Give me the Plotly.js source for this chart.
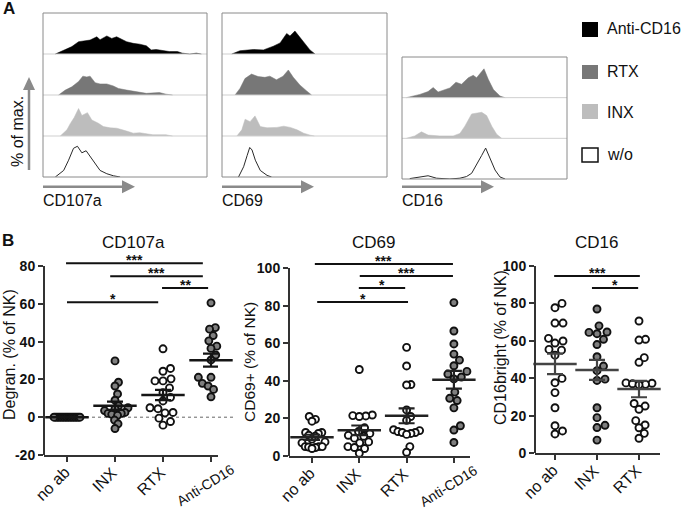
<!DOCTYPE html>
<html><head><meta charset="utf-8">
<script src="https://cdn.plot.ly/plotly-3.0.1.min.js"></script>
<style>html,body{margin:0;padding:0;background:#fff}#chart{width:685px;height:512px}</style>
</head><body><div id="chart"></div>
<script>
// ================= DATA =================
// Panel A: flow histograms (x: fluorescence, 0-100 scale; y: fraction of row height)
const histConditions = ["Anti-CD16", "RTX", "INX", "w/o"];
const h107_anti_x = [7.5,13.6,17.6,21.7,24.7,28.7,32.8,34.8,38.9,41.9,44.9,48,51,55,59,63,66,69,73,77,82,85,89.5,93.5,96.6];
const h107_anti_y = [0,0.1,0.18,0.3,0.32,0.34,0.42,0.35,0.44,0.38,0.42,0.35,0.3,0.26,0.24,0.2,0.1,0.11,0.08,0.06,0.06,0.02,0,0.02,0];
const h107_rtx_x  = [9.5,13.6,17.6,21.7,24.3,26.7,28.7,31.8,34.8,38.9,42.9,46,51,57,63,71,75,79];
const h107_rtx_y  = [0,0.12,0.2,0.33,0.46,0.44,0.46,0.3,0.27,0.27,0.22,0.16,0.12,0.08,0.04,0.06,0.02,0];
const h107_inx_x  = [10.5,14.6,16.6,19,21.7,23.7,27.1,29.8,33.8,36.8,40.9,45,51,55,59,67,75,79];
const h107_inx_y  = [0,0.15,0.3,0.45,0.67,0.5,0.57,0.39,0.31,0.23,0.2,0.19,0.12,0.07,0.08,0.03,0.03,0];
const h107_wo_x   = [7.5,12.6,15.6,18.6,21,23.7,26.3,28.7,31.8,34.8,38.9,42.9,47];
const h107_wo_y   = [0,0.16,0.41,0.7,0.75,0.59,0.64,0.51,0.33,0.16,0.08,0.03,0];

const h69_anti_x = [5.9,10.9,19,25.1,31.1,35.2,39.2,41.2,44.2,47.3,50.3,53.3,56.4];
const h69_anti_y = [0,0.08,0.11,0.1,0.19,0.27,0.5,0.44,0.56,0.4,0.26,0.1,0];
const h69_rtx_x  = [7.9,10.9,13.9,17.9,21.9,26,29,33,37,40.2,43.2,47.3,51.3,54.3];
const h69_rtx_y  = [0,0.16,0.4,0.51,0.45,0.43,0.46,0.37,0.46,0.61,0.43,0.24,0.1,0];
const h69_inx_x  = [9,12,14,17,20,23.2,27.3,33.3,37.4,41.4,45.5,49.5,53.5,56];
const h69_inx_y  = [0,0.15,0.41,0.35,0.49,0.23,0.2,0.21,0.24,0.21,0.15,0.07,0.02,0];
const h69_wo_x   = [10,13.1,15.2,16.8,18.2,20.2,23.2,27.3,30];
const h69_wo_y   = [0,0.25,0.52,0.72,0.66,0.41,0.16,0.04,0];

const h16_rtx_x = [2.6,10.8,15.8,18.9,21.9,26,29,32.7,36.1,40.2,43.2,45.2,49.7,52.3,55.4,59.4,62.5];
const h16_rtx_y = [0,0.08,0.15,0.25,0.14,0.2,0.24,0.38,0.33,0.49,0.55,0.49,0.71,0.45,0.2,0.04,0];
const h16_inx_x = [2.6,7.7,11.8,15.8,22.9,31,35.1,38.1,42.2,45.2,48.3,51.3,54.4,57.4,60.4];
const h16_inx_y = [0,0.06,0.16,0.08,0.06,0.06,0.12,0.3,0.6,0.62,0.64,0.56,0.3,0.1,0];
const h16_wo_x  = [4.7,10.8,15.8,20.9,29,35.1,39.1,42.2,45.2,48.3,50.7,53.3,56.4,59.4,62.5];
const h16_wo_y  = [0.01,0.05,0.08,0.02,0,0.02,0.06,0.14,0.34,0.58,0.76,0.5,0.22,0.05,0];

// Panel B: per-donor values
const groups4 = ["no ab", "INX", "RTX", "Anti-CD16"];
const groups3 = ["no ab", "INX", "RTX"];
const cd107a_noab = [0,0,0,0,0,0,0,0,0,0,0,0,0,0,0,0,0];
const cd107a_inx  = [29.8,18.5,16.5,12.3,9,6,5,4.5,3.5,2.5,2,2,1.5,1,-1.5,-3.5,-6];
const cd107a_rtx  = [36.2,25.8,24.3,20.3,19.2,19.2,15.5,13,10.5,8.6,5,4.5,2.5,2.3,-0.5,-2.3,-4.2];
const cd107a_anti = [60.5,47.4,46.6,43.2,40.4,37.6,36.4,32.9,30.3,21.1,21.1,18.3,17.9,17.4,16.5,14.7,10.8];
const cd69_noab = [21,19.5,18.5,12.5,12.5,12,11,10.5,9,7.5,7,5,5,5,4.8,4.5,4];
const cd69_inx  = [46,21.8,21.5,21.3,21,15,13,12,11,10.5,9.5,7.5,7,5,4.5,4,1.5];
const cd69_rtx  = [57.8,47.9,38,37.8,24.5,21,19,14,13.5,13,12.5,12.5,12,11.5,5,2];
const cd69_anti = [81.6,66.5,59.6,54.2,51,48,45,43.6,42,41,34,30.7,29.5,25.6,16.1,13.8,7.2];
const cd16_noab = [80,77.7,69.5,69.5,61.3,59.9,58.8,55.4,55,52.3,39.9,37.6,32.3,24.2,14.6,11.8,10.2];
const cd16_inx  = [77,68,64.7,64.5,63.8,60.8,58,51.5,46.5,44,39.5,38.8,24.2,18.9,14.8,13.6,6.9];
const cd16_rtx  = [70.6,60.8,60.4,51,48.5,37.5,37.3,37,36.7,36.5,26.5,25.1,23.4,17.3,15,13.5,10.5,7.9];

// significance brackets (category units) and labels
const sig107_from = [-0.02, 0.9, 1.98, 0];
const sig107_to   = [2.83, 2.83, 2.94, 1.9];
const sig107_y    = [81.5, 74.6, 68.3, 60.8];
const sig107_lab  = ["***", "***", "**", "*"];
const sig69_from = [0.06, 1.01, 0.99, 0.11];
const sig69_to   = [2.98, 2.98, 1.97, 2.03];
const sig69_y    = [102.1, 95.7, 89.4, 81.9];
const sig69_lab  = ["***", "***", "*", "*"];
const sig16_from = [-0.02, 0.88];
const sig16_to   = [2.02, 1.98];
const sig16_y    = [94.7, 88.2];
const sig16_lab  = ["***", "*"];

const ticks107 = [-20, 0, 20, 40, 60, 80];
const ticks107Text = ["-20", "0", "20", "40", "60", "80"];
const ticks100 = [0, 20, 40, 60, 80, 100];
const ticks100Text = ["0", "20", "40", "60", "80", "100"];

// ================= LAYOUT / STYLE =================
const W = 685, H = 512;
const X = p => p / W, Y = p => 1 - p / H;
const FONT = 'Liberation Sans, Arial, Helvetica, sans-serif';
const AX = '#333333';
const GRAY = '#7f7f7f', WHITE = '#ffffff';
const id = k => (k === 1 ? '' : String(k));

const data = [], shapes = [], annotations = [];
const layout = {
  width: W, height: H, margin: {l: 0, r: 0, t: 0, b: 0},
  paper_bgcolor: '#fff', plot_bgcolor: 'rgba(0,0,0,0)', showlegend: false,
  font: {family: FONT, color: '#111'}
};
function note(px, py, text, size, extra) {
  annotations.push(Object.assign({xref: 'paper', yref: 'paper', x: X(px), y: Y(py), text, showarrow: false,
    xanchor: 'center', yanchor: 'middle', font: {size, family: FONT, color: '#111'}}, extra || {}));
}

const rowStyle = {
  "Anti-CD16": {fill: '#000000', line: '#000000', w: 0.5},
  "RTX": {fill: '#777777', line: '#777777', w: 0.5},
  "INX": {fill: '#bdbdbd', line: '#bdbdbd', w: 0.5},
  "w/o": {fill: '#ffffff', line: '#2a2a2a', w: 1}
};

const hBoxes = [
  {x0: 43, x1: 207, y0: 13, y1: 177, label: 'CD107a', series: [
    [histConditions[0], h107_anti_x, h107_anti_y], [histConditions[1], h107_rtx_x, h107_rtx_y],
    [histConditions[2], h107_inx_x, h107_inx_y], [histConditions[3], h107_wo_x, h107_wo_y]]},
  {x0: 222, x1: 387, y0: 13, y1: 177, label: 'CD69', series: [
    [histConditions[0], h69_anti_x, h69_anti_y], [histConditions[1], h69_rtx_x, h69_rtx_y],
    [histConditions[2], h69_inx_x, h69_inx_y], [histConditions[3], h69_wo_x, h69_wo_y]]},
  {x0: 402, x1: 567, y0: 57, y1: 179, label: 'CD16', series: [
    [histConditions[1], h16_rtx_x, h16_rtx_y], [histConditions[2], h16_inx_x, h16_inx_y],
    [histConditions[3], h16_wo_x, h16_wo_y]]}
];

hBoxes.forEach((b, i) => {
  const k = i + 1, rows = b.series.length;
  layout['xaxis' + id(k)] = {domain: [X(b.x0), X(b.x1)], range: [0, 100], visible: false, fixedrange: true, anchor: 'y' + id(k)};
  layout['yaxis' + id(k)] = {domain: [Y(b.y1), Y(b.y0)], range: [0, rows], visible: false, fixedrange: true, anchor: 'x' + id(k)};
  b.series.forEach((s, r) => {
    const base = rows - 1 - r, st = rowStyle[s[0]];
    data.push({x: s[1], y: s[2].map(v => v + base), xaxis: 'x' + id(k), yaxis: 'y' + id(k),
      type: 'scatter', mode: 'lines', fill: 'toself', fillcolor: st.fill,
      line: {color: st.line, width: st.w, shape: 'linear'}, hoverinfo: 'skip'});
  });
  for (let r = 1; r < rows; r++) {
    shapes.push({type: 'line', xref: 'x' + id(k) + ' domain', yref: 'y' + id(k), x0: 0, x1: 1, y0: r, y1: r,
      line: {color: '#cfcfcf', width: 1}});
  }
  shapes.push({type: 'rect', xref: 'x' + id(k) + ' domain', yref: 'y' + id(k) + ' domain', x0: 0, x1: 1, y0: 0, y1: 1,
    line: {color: '#8a8a8a', width: 1}});
  // horizontal arrow under each box
  const ay = 186.7, tip = b.x0 + 92;
  shapes.push({type: 'line', xref: 'paper', yref: 'paper', x0: X(b.x0), x1: X(tip - 10), y0: Y(ay), y1: Y(ay),
    line: {color: '#8a8a8a', width: 2.5}});
  shapes.push({type: 'path', xref: 'paper', yref: 'paper', fillcolor: '#8a8a8a', line: {width: 0},
    path: `M ${X(tip)},${Y(ay)} L ${X(tip - 13)},${Y(ay - 6.5)} L ${X(tip - 13)},${Y(ay + 6.5)} Z`});
  note(b.x0 - 2, 200, b.label, 16, {xanchor: 'left'});
});

// vertical "% of max." arrow
shapes.push({type: 'line', xref: 'paper', yref: 'paper', x0: X(29), x1: X(29), y0: Y(170), y1: Y(88),
  line: {color: '#8a8a8a', width: 2.5}});
shapes.push({type: 'path', xref: 'paper', yref: 'paper', fillcolor: '#8a8a8a', line: {width: 0},
  path: `M ${X(29)},${Y(77)} L ${X(23)},${Y(90)} L ${X(35)},${Y(90)} Z`});
note(17, 132, '% of max.', 16, {textangle: -90});

// legend
const legendY = [[22, 37, 28], [65, 79, 71], [104, 119, 112], [148, 162, 154]];
histConditions.forEach((c, i) => {
  const st = rowStyle[c], ly = legendY[i];
  shapes.push({type: 'rect', xref: 'paper', yref: 'paper', x0: X(582), x1: X(598), y0: Y(ly[1]), y1: Y(ly[0]),
    fillcolor: st.fill, line: {color: c === 'w/o' ? '#111' : st.fill, width: c === 'w/o' ? 1.5 : 0}});
  note(605, ly[2], c, 16, {xanchor: 'left'});
});

note(9, 8, '<b>A</b>', 17);
note(8, 240, '<b>B</b>', 17);

// ---------- Panel B scatter plots ----------
function swarm(vals, ppu, d, maxHalf) {
  const n = vals.length, order = [...vals.keys()].sort((a, b) => vals[a] - vals[b]);
  const pos = [], off = new Array(n);
  for (const i of order) {
    const y = vals[i] * ppu;
    let chosen = 0;
    for (let k = 0; k < 600; k++) {
      const c = (k % 2 === 1 ? 1 : -1) * Math.ceil(k / 2) * 0.5;
      let ok = true;
      for (const p of pos) { const dx = p.x - c, dy = p.y - y; if (dx * dx + dy * dy < d * d) { ok = false; break; } }
      if (ok) { chosen = c; break; }
    }
    off[i] = chosen; pos.push({x: chosen, y});
  }
  const m = Math.max(...off.map(Math.abs));
  if (m > maxHalf) for (let i = 0; i < n; i++) off[i] *= maxHalf / m;
  return off;
}
const mean = a => a.reduce((s, v) => s + v, 0) / a.length;
const sem = a => { const m = mean(a); return Math.sqrt(a.reduce((s, v) => s + (v - m) * (v - m), 0) / (a.length - 1)) / Math.sqrt(a.length); };

const bPanels = [
  {title: 'CD107a', tx: 133, ytitle: 'Degran. (% of NK)', ytx: 9, yty: 355, ytsize: 16,
   cats: groups4, vals: [cd107a_noab, cd107a_inx, cd107a_rtx, cd107a_anti], fills: [GRAY, GRAY, WHITE, GRAY],
   ticks: ticks107, tickText: ticks107Text, sig: [sig107_from, sig107_to, sig107_y, sig107_lab],
   x0: 44, x1: 218, c0: 67, step: 48, yb: 455, yt: 266, vb: -20, vt: 80, vtop: 92, bar: '#151515', zeroLine: true},
  {title: 'CD69', tx: 373, ytitle: 'CD69+ (% of NK)', ytx: 249, yty: 362, ytsize: 15.5,
   cats: groups4, vals: [cd69_noab, cd69_inx, cd69_rtx, cd69_anti], fills: [WHITE, WHITE, WHITE, GRAY],
   ticks: ticks100, tickText: ticks100Text, sig: [sig69_from, sig69_to, sig69_y, sig69_lab],
   x0: 289, x1: 470, c0: 312, step: 47.3, yb: 456, yt: 268, vb: 0, vt: 100, vtop: 106, bar: '#222222', zeroLine: false},
  {title: 'CD16', tx: 596, ytitle: 'CD16bright (% of NK)', ytx: 500, yty: 348, ytsize: 16,
   cats: groups3, vals: [cd16_noab, cd16_inx, cd16_rtx], fills: [WHITE, GRAY, WHITE],
   ticks: ticks100, tickText: ticks100Text, sig: [sig16_from, sig16_to, sig16_y, sig16_lab],
   x0: 535, x1: 660, c0: 555, step: 42, yb: 453, yt: 266, vb: 0, vt: 100, vtop: 100, bar: '#444444', zeroLine: false}
];
// rotated category label placement: horizontal shift (px) of the upper-right end, gap below axis, angle, font size
const labelStyle = {
  "no ab": {dx: 9, gap: 6, angle: -45, size: 16},
  "INX": {dx: 8, gap: 6, angle: -45, size: 16},
  "RTX": {dx: 8, gap: 6, angle: -45, size: 16},
  "Anti-CD16": {dx: 29, gap: 3, angle: -32, size: 14}
};

bPanels.forEach((p, i) => {
  const k = i + 4, xa = 'x' + id(k), ya = 'y' + id(k);
  const ppu = (p.yb - p.yt) / (p.vt - p.vb);
  const topPx = p.yb - (p.vtop - p.vb) * ppu;
  layout['xaxis' + id(k)] = {
    domain: [X(p.x0), X(p.x1)], range: [(p.x0 - p.c0) / p.step, (p.x1 - p.c0) / p.step], anchor: ya,
    showline: true, linewidth: 2, linecolor: AX, ticks: 'outside', ticklen: 5, tickwidth: 2, tickcolor: AX,
    tickvals: p.cats.map((c, j) => j), showticklabels: false,
    showgrid: false, zeroline: false, fixedrange: true
  };
  layout['yaxis' + id(k)] = {
    domain: [Y(p.yb), Y(topPx)], range: [p.vb, p.vtop], anchor: xa,
    showline: false, ticks: 'outside', ticklen: 5, tickwidth: 2, tickcolor: AX,
    tickvals: p.ticks, ticktext: p.tickText.map(t => '<b>' + t + '</b>'),
    tickfont: {size: 14, family: FONT, color: '#111'},
    showgrid: false, zeroline: false, fixedrange: true
  };
  // rotated category labels
  p.cats.forEach((c, j) => {
    const ls = labelStyle[c];
    annotations.push({xref: xa, yref: 'paper', x: j, y: Y(p.yb + ls.gap), xshift: ls.dx, text: c, showarrow: false,
      textangle: ls.angle, xanchor: 'right', yanchor: 'top', font: {size: ls.size, family: FONT, color: '#111'}});
  });
  // y axis line only over the tick range
  shapes.push({type: 'line', xref: xa + ' domain', yref: ya, x0: 0, x1: 0, y0: p.vb, y1: p.vt,
    line: {color: AX, width: 2}});
  if (p.zeroLine) {
    shapes.push({type: 'line', xref: xa + ' domain', yref: ya, x0: 0, x1: (233 - p.x0) / (p.x1 - p.x0), y0: 0, y1: 0,
      line: {color: '#666', width: 1, dash: 'dot'}, layer: 'below'});
  }
  // points
  p.vals.forEach((vals, g) => {
    const off = swarm(vals, ppu, 8, 13);
    data.push({x: vals.map((v, j) => g + off[j] / p.step), y: vals, xaxis: xa, yaxis: ya, type: 'scatter', mode: 'markers',
      marker: {symbol: 'circle', size: 7, color: p.fills[g], line: {color: '#111', width: 1.9}}, cliponaxis: false, hoverinfo: 'skip'});
  });
  // mean +/- SEM
  data.push({x: p.vals.map((v, g) => g), y: p.vals.map(mean), xaxis: xa, yaxis: ya, type: 'scatter', mode: 'markers',
    marker: {symbol: 'line-ew', size: 31, color: p.bar, line: {color: p.bar, width: 2.5}},
    error_y: {type: 'data', array: p.vals.map(sem), symmetric: true, color: p.bar, thickness: 2.2, width: 8},
    cliponaxis: false, hoverinfo: 'skip'});
  // significance brackets
  const [sf, stt, sy, sl] = p.sig;
  sf.forEach((f, j) => {
    shapes.push({type: 'line', xref: xa, yref: ya, x0: f, x1: stt[j], y0: sy[j], y1: sy[j], line: {color: '#111', width: 2}});
    annotations.push({xref: xa, yref: ya, x: (f + stt[j]) / 2, y: sy[j], text: '<b>' + sl[j] + '</b>', showarrow: false,
      xanchor: 'center', yanchor: 'bottom', yshift: -7, font: {size: 14, family: FONT, color: '#111'}});
  });
  // titles
  note(p.tx, 242, p.title, 17);
  note(p.ytx, p.yty, p.ytitle, p.ytsize, {textangle: -90});
});

layout.shapes = shapes;
layout.annotations = annotations;
Plotly.newPlot('chart', data, layout, {staticPlot: true, displayModeBar: false});
</script></body></html>
